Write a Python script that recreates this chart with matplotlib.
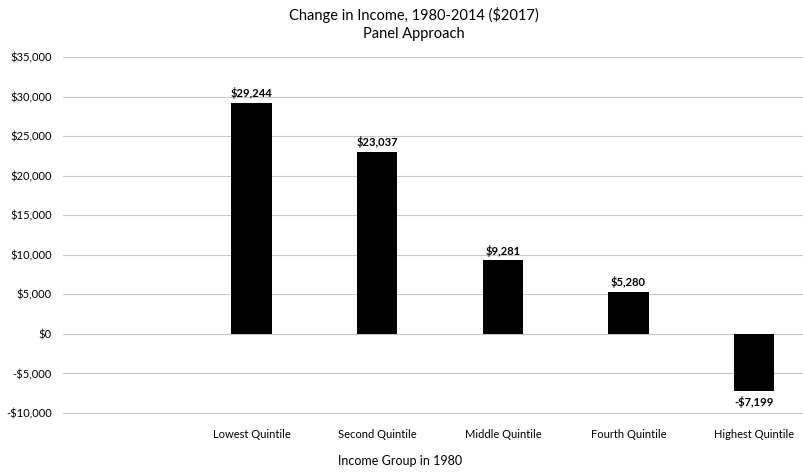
import matplotlib
matplotlib.use("Agg")
import matplotlib.pyplot as plt
from matplotlib.ticker import FuncFormatter

plt.rcParams['font.family'] = ['Lato', 'DejaVu Sans']

# first slot is an empty category in the original chart
categories = ["", "Lowest Quintile", "Second Quintile", "Middle Quintile",
              "Fourth Quintile", "Highest Quintile"]
values = [None, 29244, 23037, 9281, 5280, -7199]
y_ticks = list(range(-10000, 35001, 5000))


def money(v, pos=None):
    v = int(round(v))
    return ("-$" if v < 0 else "$") + f"{abs(v):,}"


fig = plt.figure(figsize=(8.04, 4.72), dpi=100)
ax = fig.add_axes([63 / 804, (472 - 414) / 472, 754 / 804, 357 / 472])

xs = [i for i, v in enumerate(values) if v is not None]
vals = [v for v in values if v is not None]
ax.bar(xs, vals, width=0.32, color="black", zorder=3)

for x, v in zip(xs, vals):
    if v >= 0:
        ax.text(x, v + 500, money(v), ha="center", va="bottom",
                fontsize=8, fontweight="bold")
    else:
        ax.text(x, v - 600, money(v), ha="center", va="top",
                fontsize=8, fontweight="bold")

ax.set_ylim(-10120, 35000)
ax.set_xlim(-0.5, 5.5)
ax.set_yticks(y_ticks)
ax.yaxis.set_major_formatter(FuncFormatter(money))
ax.set_xticks(range(len(categories)))
ax.set_xticklabels(categories)
ax.grid(axis="y", color="#c8c8c8", linewidth=0.8, zorder=0)
for s in ax.spines.values():
    s.set_visible(False)
ax.tick_params(axis="both", length=0, labelsize=8)
ax.tick_params(axis="x", pad=11)
ax.tick_params(axis="y", pad=8)

fig.text(414 / 804, 1 - 15 / 472, "Change in Income, 1980-2014 ($2017)",
         ha="center", va="center", fontsize=10.5)
fig.text(414 / 804, 1 - 34 / 472, "Panel Approach",
         ha="center", va="center", fontsize=10.5)
fig.text(400 / 804, 1 - 461 / 472, "Income Group in 1980",
         ha="center", va="center", fontsize=9)

fig.savefig("out.png", dpi=100)
